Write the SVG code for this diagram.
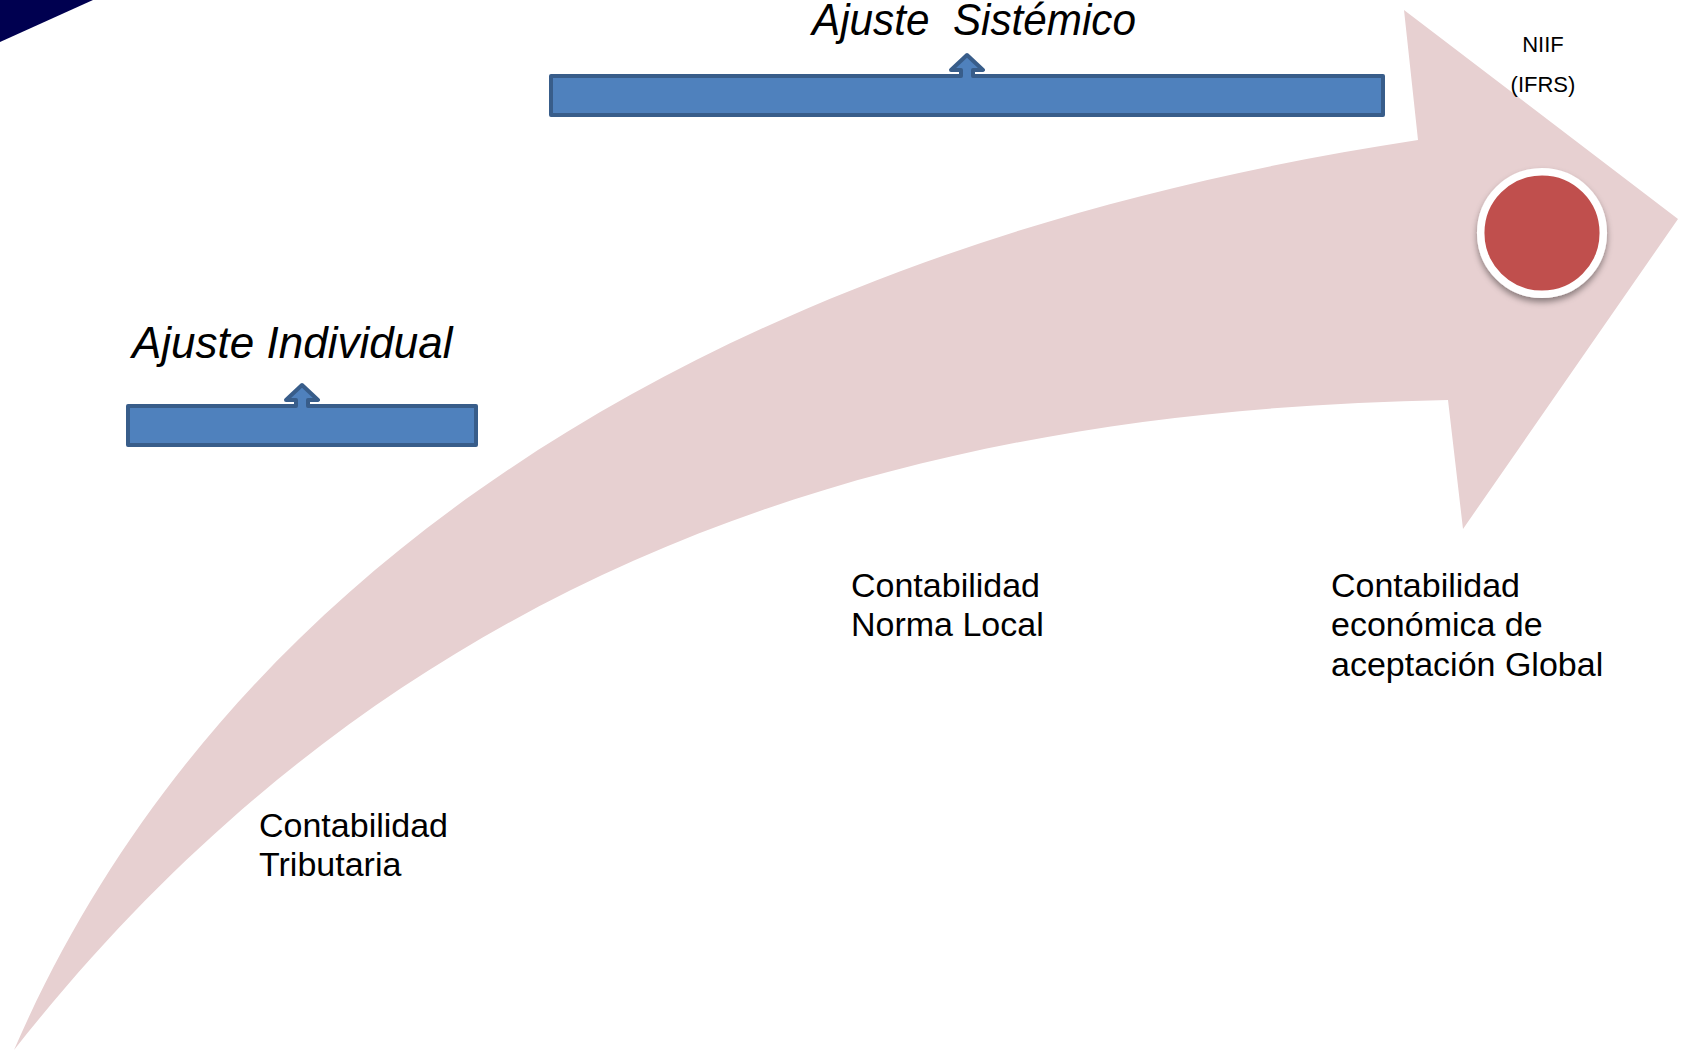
<svg xmlns="http://www.w3.org/2000/svg" width="1690" height="1052" viewBox="0 0 1690 1052">
  <style>
    .lbl { font-family: "Liberation Sans", Arial, sans-serif; font-size: 34px; fill: #000000; }
    .small { font-family: "Liberation Sans", Arial, sans-serif; font-size: 22px; fill: #000000; }
    .title { font-family: "Liberation Sans", Arial, sans-serif; font-size: 44px; font-style: italic; fill: #000000; }
    .bar { fill: #4F81BD; stroke: #385D8A; stroke-width: 4; stroke-linejoin: round; }
  </style>
  <defs>
    <filter id="shadow" x="-30%" y="-30%" width="160%" height="160%">
      <feDropShadow dx="0" dy="4" stdDeviation="3" flood-color="#000000" flood-opacity="0.4"/>
    </filter>
  </defs>
  <rect width="1690" height="1052" fill="#FFFFFF"/>
  <polygon id="corner" points="0,0 93,0 0,42" fill="#000050"/>

  <g id="connectors">
    <path id="big-arrow" d="M14,1050 C235,540 760,240 1418,140 L1404,10 L1678,219 L1463,529 L1448,400 C900,410 400,560 14,1050 Z" fill="#E7D0D1"/>
  </g>

  <g id="ajuste-sistemico">
    <path class="bar" d="M551,76 H961 V70 H951 L967,55 L983,70 H973 V76 H1383 V115 H551 Z"/>
    <text class="title" x="812" y="35" xml:space="preserve" textLength="324" lengthAdjust="spacingAndGlyphs">Ajuste  Sistémico</text>
  </g>

  <g id="ajuste-individual">
    <path class="bar" d="M128,406 H296 V400 H286 L302,385 L318,400 H308 V406 H476 V445 H128 Z"/>
    <text class="title" x="132" y="358">Ajuste Individual</text>
  </g>

  <g id="niif">
    <circle cx="1542" cy="233" r="61.3" fill="#C0504D" stroke="#FFFFFF" stroke-width="7.5" filter="url(#shadow)"/>
    <text class="small" x="1543" y="52" text-anchor="middle">NIIF</text>
    <text class="small" x="1543" y="92" text-anchor="middle">(IFRS)</text>
  </g>

  <g id="tributaria">
    <text class="lbl" x="259" y="837">Contabilidad</text>
    <text class="lbl" x="259" y="876">Tributaria</text>
  </g>

  <g id="norma-local">
    <text class="lbl" x="851" y="597">Contabilidad</text>
    <text class="lbl" x="851" y="636">Norma Local</text>
  </g>

  <g id="global">
    <text class="lbl" x="1331" y="597">Contabilidad</text>
    <text class="lbl" x="1331" y="636">económica de</text>
    <text class="lbl" x="1331" y="676">aceptación Global</text>
  </g>
</svg>
